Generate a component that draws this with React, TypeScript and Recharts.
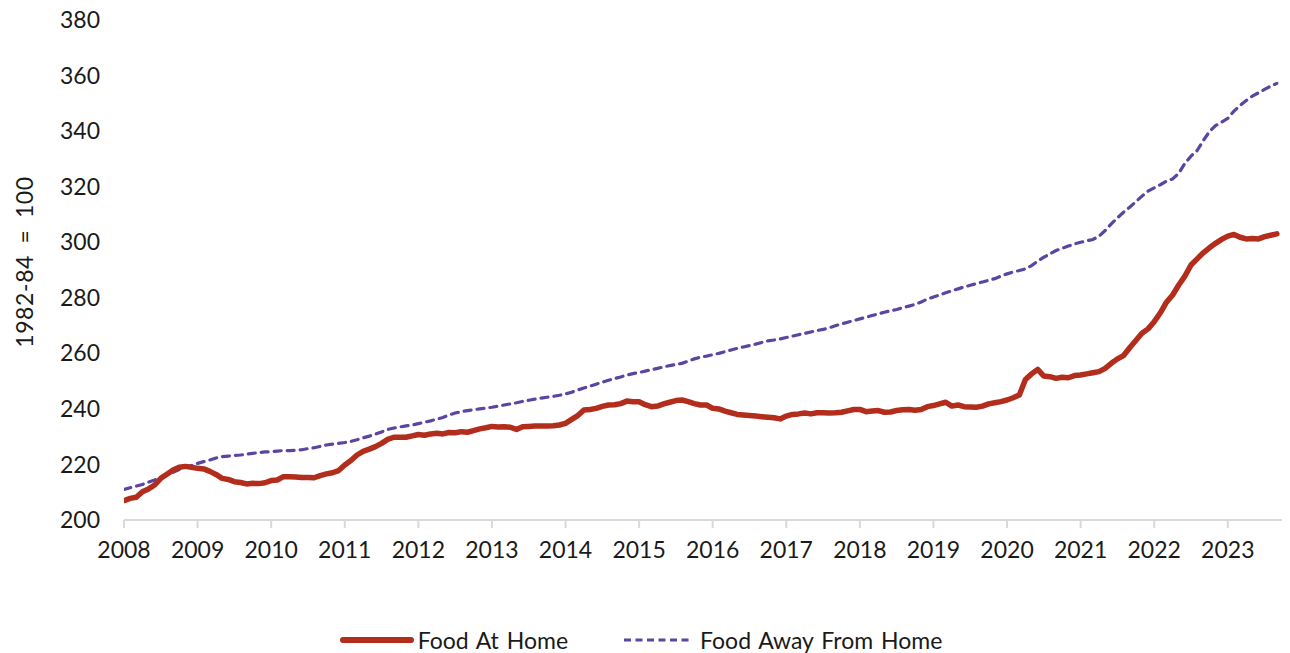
import React from 'react';
import { LineChart, Line, XAxis, YAxis, Legend, Label } from 'recharts';

const yearLabels = ['2008','2009','2010','2011','2012','2013','2014','2015','2016','2017','2018','2019','2020','2021','2022','2023'];
const yTicks = [200, 220, 240, 260, 280, 300, 320, 340, 360, 380];

// Monthly index values, Jan 2008 - Sep 2023
const foodAtHome = [
  207.0, 207.8, 208.2, 210.2, 211.2, 212.6, 215.0, 216.5, 218.0, 219.0, 219.3, 219.0,
  218.6, 218.4, 217.5, 216.4, 215.0, 214.6, 213.8, 213.5, 213.0, 213.2, 213.1, 213.4,
  214.2, 214.4, 215.6, 215.6, 215.5, 215.3, 215.3, 215.2, 216.0, 216.6, 217.0, 217.8,
  219.8, 221.4, 223.4, 224.7, 225.5, 226.4, 227.6, 229.0, 229.8, 229.8, 229.8, 230.3,
  230.8, 230.5, 231.0, 231.2, 231.0, 231.5, 231.4, 231.8, 231.6, 232.2, 232.8, 233.2,
  233.7, 233.5, 233.6, 233.4, 232.6, 233.6, 233.7, 233.8, 233.8, 233.8, 233.9, 234.2,
  234.8, 236.2, 237.6, 239.6, 239.8, 240.2, 240.9, 241.4, 241.5, 241.9, 242.8, 242.6,
  242.6, 241.5, 240.8, 241.0, 241.8, 242.4, 243.0, 243.2, 242.6, 241.9, 241.4, 241.4,
  240.2, 240.0, 239.2, 238.6, 238.0, 237.8, 237.6, 237.4, 237.2, 237.0, 236.8, 236.4,
  237.4, 238.0, 238.2, 238.5, 238.2, 238.6, 238.6, 238.5, 238.6, 238.8, 239.3, 239.8,
  239.8, 239.0, 239.2, 239.4, 238.8, 238.9, 239.4, 239.7, 239.8, 239.5, 239.8, 240.8,
  241.2, 241.8, 242.4, 241.0, 241.4, 240.8, 240.7, 240.6, 241.0, 241.8, 242.2, 242.6,
  243.2, 244.0, 245.0, 250.6, 252.6, 254.2, 251.8, 251.6, 251.0, 251.4, 251.2, 252.0,
  252.2, 252.6, 253.0, 253.4, 254.6, 256.4, 258.0, 259.2, 262.0, 264.6, 267.2, 268.8,
  271.4, 274.6, 278.4, 281.0, 284.6, 287.8, 291.8, 294.0, 296.2, 298.0, 299.6, 301.0,
  302.2, 302.8, 301.8, 301.2, 301.3, 301.2, 302.0, 302.5, 303.0,
];

const foodAwayFromHome = [
  211.0, 211.6, 212.2, 212.8, 213.6, 214.4, 215.4, 216.3, 217.2, 218.2, 219.0, 219.6,
  220.4, 221.0, 221.6, 222.3, 222.8, 223.0, 223.2, 223.4, 223.7, 224.0, 224.3, 224.5,
  224.6, 224.8, 225.0, 225.0, 225.1, 225.3, 225.7, 226.0, 226.5, 227.0, 227.3, 227.6,
  227.9, 228.3, 228.9, 229.6, 230.2, 230.9, 231.7, 232.6, 233.1, 233.5, 233.9, 234.2,
  234.7, 235.2, 235.7, 236.3, 236.9, 237.8, 238.5, 239.0, 239.4, 239.7, 240.0, 240.3,
  240.6, 241.0, 241.4, 241.8, 242.2, 242.7, 243.1, 243.5, 243.9, 244.2, 244.5, 244.9,
  245.4, 246.0, 246.8, 247.5, 248.2, 248.9, 249.6, 250.3, 250.9, 251.5, 252.2, 252.7,
  253.1, 253.6, 254.1, 254.6, 255.1, 255.6, 256.0, 256.4, 257.2, 258.0, 258.6, 259.0,
  259.5, 260.0, 260.6, 261.2, 261.8, 262.3, 262.8, 263.3, 263.9, 264.5, 264.8, 265.2,
  265.7, 266.2, 266.7, 267.2, 267.7, 268.2, 268.6, 269.2, 269.9, 270.6, 271.2, 271.8,
  272.4, 273.0, 273.6, 274.2, 274.8, 275.3, 275.8, 276.4, 277.0, 277.6, 278.5, 279.5,
  280.3, 281.0, 281.8, 282.5, 283.2, 283.9, 284.5, 285.1, 285.7, 286.3, 286.9, 287.8,
  288.6, 289.3, 289.8, 290.4, 291.6, 293.2, 294.6, 295.8, 297.0, 297.8, 298.6, 299.4,
  300.0, 300.5, 301.0, 302.2, 304.2, 306.6, 308.8, 310.8, 312.6, 314.6, 316.6, 318.4,
  319.6, 320.7, 322.0, 322.8, 324.8, 328.4, 331.0, 333.0, 336.6, 339.8, 342.0, 343.2,
  344.6, 347.2, 349.2, 351.0, 352.6, 353.8, 355.0, 356.2, 357.2,
];

const seriesNames = ['Food At Home', 'Food Away From Home'];
const colors = ['#b22d1c', '#5b45a0'];

const data = foodAtHome.map((v, i) => ({ m: i, home: v, away: foodAwayFromHome[i] }));
const xTicks = yearLabels.map((_, i) => i * 12);

const FONT = 'Lato, "Noto Sans", sans-serif';
const TEXT = '#1a1a1a';

const LegendContent = () => (
  <div style={{ display: 'flex', justifyContent: 'center', alignItems: 'center', height: 24, lineHeight: '24px', fontFamily: FONT, fontSize: 23, color: TEXT, paddingRight: 16, wordSpacing: 2 }}>
    <div style={{ display: 'flex', alignItems: 'center', marginRight: 54 }}>
      <svg width={74} height={12} style={{ marginRight: 4 }}>
        <line x1={3} y1={6} x2={71} y2={6} stroke={colors[0]} strokeWidth={6} strokeLinecap="round" />
      </svg>
      <span>{seriesNames[0]}</span>
    </div>
    <div style={{ display: 'flex', alignItems: 'center' }}>
      <svg width={72} height={12} style={{ marginRight: 6 }}>
        <line x1={2} y1={6} x2={70} y2={6} stroke={colors[1]} strokeWidth={3} strokeDasharray="7 4.5" strokeLinecap="butt" />
      </svg>
      <span>{seriesNames[1]}</span>
    </div>
  </div>
);

const YLabel = (props: any) => {
  const vb = props.viewBox || {};
  const cx = vb.x + 16;
  const cy = vb.y + vb.height / 2 - 8;
  return (
    <text x={cx} y={cy} transform={`rotate(-90, ${cx}, ${cy})`} textAnchor="middle" dominantBaseline="central" fontFamily={FONT} fontSize={23} fill={TEXT} style={{ wordSpacing: 5, letterSpacing: 0.6 }}>
      1982-84 = 100
    </text>
  );
};

export default function App() {
  return (
    <div style={{ width: 1282, height: 645, background: '#fff', overflow: 'visible' }}>
      <style>{'html, body { overflow: hidden; }'}</style>
      <LineChart width={1282} height={645} data={data} margin={{ top: 12, right: 7, left: 0, bottom: 49 }}>
        <XAxis
          dataKey="m"
          type="number"
          domain={[0, 189]}
          ticks={xTicks}
          tickFormatter={(v: number) => yearLabels[Math.round(v / 12)]}
          height={60}
          axisLine={{ stroke: '#d9d9d9', strokeWidth: 2 }}
          tickLine={{ stroke: '#d9d9d9', strokeWidth: 2 }}
          tickSize={8}
          tickMargin={14}
          tick={{ fontFamily: FONT, fontSize: 23, fill: TEXT }}
          interval={0}
          allowDataOverflow
        />
        <YAxis
          type="number"
          domain={[200, 380]}
          ticks={yTicks}
          width={116}
          axisLine={false}
          tickLine={false}
          tickSize={0}
          tickMargin={24}
          tick={{ fontFamily: FONT, fontSize: 23, fill: TEXT }}
          interval={0}
        >
          <Label content={<YLabel />} />
        </YAxis>
        <Legend
          verticalAlign="bottom"
          content={<LegendContent />}
          wrapperStyle={{ top: 620, bottom: 'auto', left: 0, width: 1282 }}
        />
        <Line type="linear" dataKey="away" name={seriesNames[1]} stroke={colors[1]} strokeWidth={3.2} strokeDasharray="7 6" strokeLinecap="round" dot={false} isAnimationActive={false} />
        <Line type="linear" dataKey="home" name={seriesNames[0]} stroke={colors[0]} strokeWidth={5.5} strokeLinejoin="round" strokeLinecap="round" dot={false} isAnimationActive={false} />
      </LineChart>
    </div>
  );
}
